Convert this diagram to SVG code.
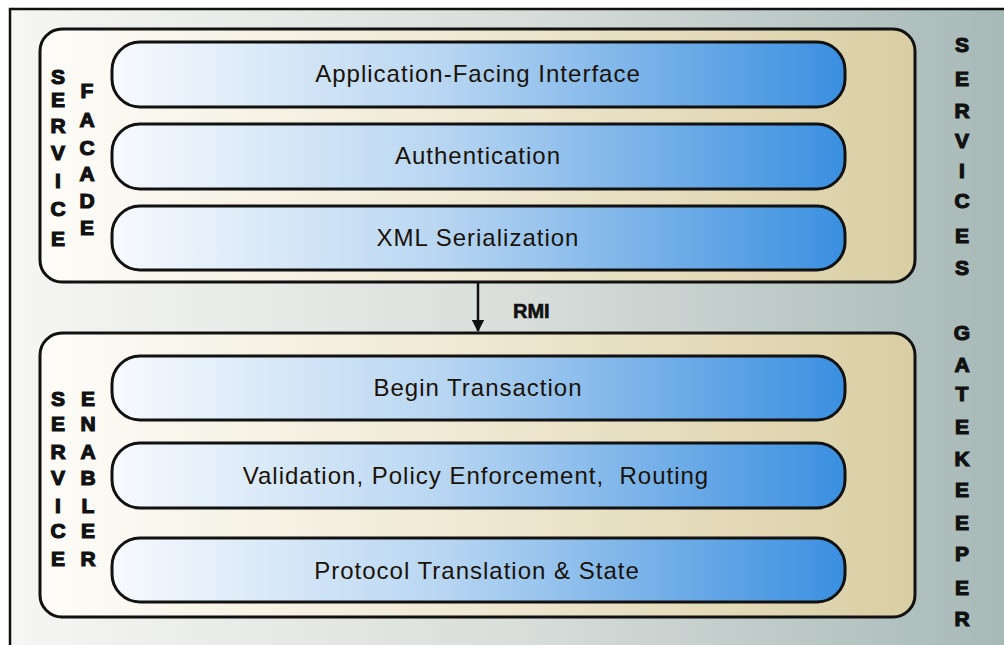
<svg xmlns="http://www.w3.org/2000/svg" width="1004" height="645" viewBox="0 0 1004 645">
<defs>
<linearGradient id="bg" x1="0" y1="0" x2="1" y2="0">
<stop offset="0" stop-color="#f6f6f4"/>
<stop offset="0.5" stop-color="#d9dedb"/>
<stop offset="1" stop-color="#a5b8b6"/>
</linearGradient>
<linearGradient id="panel" x1="0" y1="0" x2="1" y2="0">
<stop offset="0" stop-color="#fdfcf8"/>
<stop offset="0.5" stop-color="#efe8d2"/>
<stop offset="1" stop-color="#d9cea3"/>
</linearGradient>
<linearGradient id="bar" x1="0" y1="0" x2="1" y2="0">
<stop offset="0" stop-color="#f7fafd"/>
<stop offset="0.45" stop-color="#b8d6f2"/>
<stop offset="1" stop-color="#3a8fe0"/>
</linearGradient>
<marker id="ah" viewBox="0 0 10 10" refX="9" refY="5" markerWidth="5" markerHeight="5" orient="auto">
<path d="M0,0 L10,5 L0,10 z" fill="#111"/>
</marker>
<style>
.panel{fill:url(#panel);stroke:#111;stroke-width:3}
.bar{fill:url(#bar);stroke:#111;stroke-width:3}
.lbl{font-family:"Liberation Sans",Arial,sans-serif;font-size:24px;letter-spacing:1px;fill:#1a1208;text-anchor:middle}
.vert{font-family:"Liberation Sans",Arial,sans-serif;font-size:21px;font-weight:900;fill:#111;text-anchor:middle;stroke:#111;stroke-width:1.2}
.rmi{font-family:"Liberation Sans",Arial,sans-serif;font-size:20px;font-weight:bold;fill:#111;stroke:#111;stroke-width:0.6}
</style>
</defs>
<rect x="0" y="0" width="1004" height="645" fill="#ffffff"/>
<rect id="frame" x="10" y="9" width="1010" height="650" fill="url(#bg)" stroke="#111" stroke-width="2.5"/>

<g id="service-facade">
<rect class="panel" x="40" y="29" width="875" height="253" rx="22"/>
<g class="vert">
<text x="58" y="84">S</text><text x="58" y="107">E</text><text x="58" y="133">R</text><text x="58" y="160">V</text><text x="58" y="188">I</text><text x="58" y="216">C</text><text x="58" y="246">E</text>
<text x="87" y="98">F</text><text x="87" y="127">A</text><text x="87" y="155">C</text><text x="87" y="181">A</text><text x="87" y="208">D</text><text x="87" y="235">E</text>
</g>
</g>
<g id="bar-app">
<rect class="bar" x="112" y="42" width="733" height="65" rx="28"/>
<text class="lbl" x="478" y="82">Application-Facing Interface</text>
</g>
<g id="bar-auth">
<rect class="bar" x="112" y="124" width="733" height="65" rx="28"/>
<text class="lbl" x="478" y="164">Authentication</text>
</g>
<g id="bar-xml">
<rect class="bar" x="112" y="206" width="733" height="64" rx="28"/>
<text class="lbl" x="478" y="246">XML Serialization</text>
</g>

<g id="service-enabler">
<rect class="panel" x="40" y="333" width="875" height="284" rx="22"/>
<g class="vert">
<text x="58" y="406">S</text><text x="58" y="431">E</text><text x="58" y="459">R</text><text x="58" y="485">V</text><text x="58" y="513">I</text><text x="58" y="538">C</text><text x="58" y="566">E</text>
<text x="88" y="406">E</text><text x="88" y="431">N</text><text x="88" y="459">A</text><text x="88" y="485">B</text><text x="88" y="513">L</text><text x="88" y="538">E</text><text x="88" y="566">R</text>
</g>
</g>
<g id="bar-begin">
<rect class="bar" x="112" y="356" width="733" height="64" rx="28"/>
<text class="lbl" x="478" y="396">Begin Transaction</text>
</g>
<g id="bar-valid">
<rect class="bar" x="112" y="443" width="733" height="65" rx="28"/>
<text class="lbl" x="476" y="484" xml:space="preserve">Validation, Policy Enforcement,  Routing</text>
</g>
<g id="bar-proto">
<rect class="bar" x="112" y="538" width="733" height="64" rx="28"/>
<text class="lbl" x="477" y="579">Protocol Translation &amp; State</text>
</g>

<g id="side-labels" class="vert">
<text x="962" y="52">S</text><text x="962" y="86">E</text><text x="962" y="118">R</text><text x="962" y="148">V</text><text x="962" y="178">I</text><text x="962" y="208">C</text><text x="962" y="243">E</text><text x="962" y="275">S</text>
<text x="962" y="340">G</text><text x="962" y="372">A</text><text x="962" y="401">T</text><text x="962" y="434">E</text><text x="962" y="466">K</text><text x="962" y="497">E</text><text x="962" y="530">E</text><text x="962" y="561">P</text><text x="962" y="595">E</text><text x="962" y="626">R</text>
</g>

<g id="connectors">
<line x1="478" y1="283" x2="478" y2="331" stroke="#111" stroke-width="2.5" marker-end="url(#ah)"/>
<text class="rmi" x="513" y="318">RMI</text>
</g>
</svg>
